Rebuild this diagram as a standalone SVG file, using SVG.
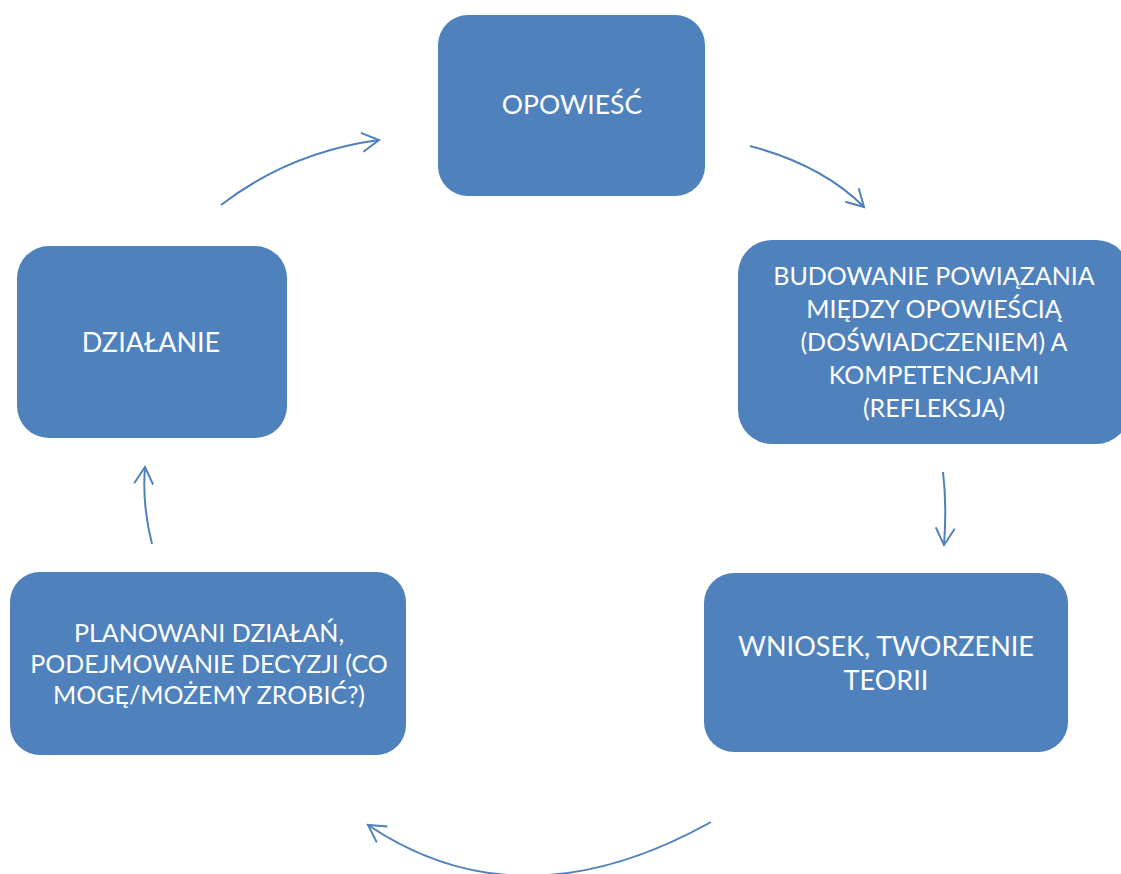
<svg xmlns="http://www.w3.org/2000/svg" width="1121" height="874" viewBox="0 0 1121 874">
<style>
.box{fill:#4F81BD;}
.t{fill:#FFFFFF;font-family:Lato,"Open Sans","Liberation Sans",sans-serif;font-size:25px;text-anchor:middle;}
.c{fill:none;stroke:#4F81BD;stroke-width:2;}
</style>
<defs>
<marker id="ah" markerUnits="userSpaceOnUse" markerWidth="30" markerHeight="30" viewBox="-20 -15 25 30" refX="0" refY="0" orient="auto">
<path d="M -17,-9.5 L 0,0 L -17,9.5" fill="none" stroke="#4F81BD" stroke-width="2"/>
</marker>
</defs>
<rect width="1121" height="874" fill="#FFFFFF"/>
<g id="opowiesc">
<rect class="box" x="438" y="15" width="267" height="181" rx="30"/>
<text class="t" x="572" y="114" style="font-size:26.5px">OPOWIEŚĆ</text>
</g>
<g id="budowanie">
<rect class="box" x="738" y="240" width="392" height="204" rx="34"/>
<text class="t" x="934" y="285">BUDOWANIE POWIĄZANIA</text>
<text class="t" x="934" y="318">MIĘDZY OPOWIEŚCIĄ</text>
<text class="t" x="934" y="351">(DOŚWIADCZENIEM) A</text>
<text class="t" x="934" y="384">KOMPETENCJAMI</text>
<text class="t" x="934" y="417">(REFLEKSJA)</text>
</g>
<g id="wniosek">
<rect class="box" x="704" y="573" width="364" height="179" rx="30"/>
<text class="t" x="886" y="656" style="font-size:27px">WNIOSEK, TWORZENIE</text>
<text class="t" x="886" y="690" style="font-size:27px">TEORII</text>
</g>
<g id="planowanie">
<rect class="box" x="10" y="572" width="396" height="183" rx="30"/>
<text class="t" x="209" y="642">PLANOWANI DZIAŁAŃ,</text>
<text class="t" x="209" y="673">PODEJMOWANIE DECYZJI (CO</text>
<text class="t" x="209" y="704">MOGĘ/MOŻEMY ZROBIĆ?)</text>
</g>
<g id="dzialanie">
<rect class="box" x="17" y="246" width="270" height="192" rx="32"/>
<text class="t" x="151" y="352" style="font-size:27px">DZIAŁANIE</text>
</g>
<g id="connectors">
<path class="c" d="M 221,205 Q 290,152 379,140" marker-end="url(#ah)"/>
<path class="c" d="M 750,146 Q 822,165 864,207" marker-end="url(#ah)"/>
<path class="c" d="M 943,472 Q 947,505 944,545" marker-end="url(#ah)"/>
<path class="c" d="M 711,822 Q 521,928 368,825" marker-end="url(#ah)"/>
<path class="c" d="M 152,544 Q 142,505 145,467" marker-end="url(#ah)"/>
</g>
</svg>
